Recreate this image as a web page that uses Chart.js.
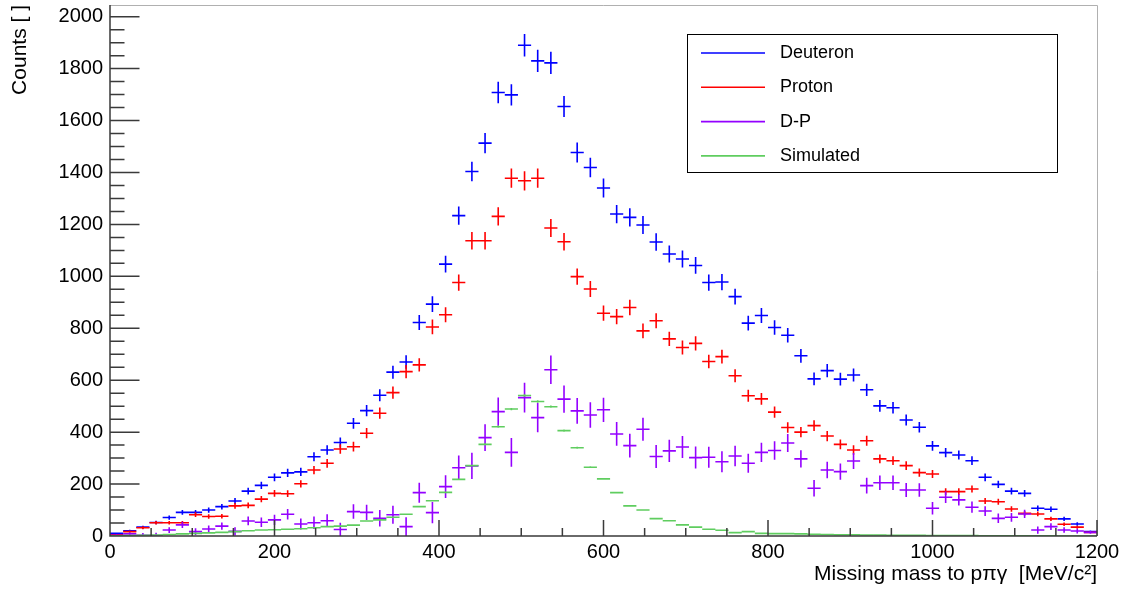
<!DOCTYPE html>
<html>
<head>
<meta charset="utf-8">
<script src="https://cdn.jsdelivr.net/npm/chart.js@4.4.0/dist/chart.umd.min.js"></script>
<style>
  html, body { margin: 0; padding: 0; background: #fff; }
</style>
</head>
<body>
<canvas id="c" width="1126" height="589"></canvas>
<script>
// bin centres of the 16 MeV wide histogram bins
const binCenters = [8, 24, 40, 56, 72, 88, 104, 120, 136, 152, 168, 184, 200, 216, 232, 248, 264, 280, 296, 312,
  328, 344, 360, 376, 392, 408, 424, 440, 456, 472, 488, 504, 520, 536, 552, 568, 584, 600, 616, 632,
  648, 664, 680, 696, 712, 728, 744, 760, 776, 792, 808, 824, 840, 856, 872, 888, 904, 920, 936, 952,
  968, 984, 1000, 1016, 1032, 1048, 1064, 1080, 1096, 1112, 1128, 1144, 1160, 1176, 1192]
const halfBin = 8

const deuteron = [10, 20, 34, 52, 71, 91, 91, 100, 113, 135, 173, 195, 226, 243, 247, 305, 331, 360, 434, 483,
  542, 631, 670, 822, 893, 1047, 1234, 1404, 1513, 1708, 1699, 1890, 1830, 1822, 1654, 1477, 1419, 1340, 1240, 1227,
  1198, 1132, 1086, 1067, 1042, 976, 978, 922, 820, 849, 803, 773, 694, 605, 637, 604, 620, 563, 501, 494,
  447, 419, 347, 321, 312, 290, 226, 199, 173, 164, 107, 103, 66, 46, 17]

const proton = [5, 17, 32, 51, 51, 51, 82, 75, 76, 116, 118, 142, 164, 163, 201, 254, 280, 335, 344, 396,
  473, 552, 633, 659, 805, 852, 976, 1137, 1137, 1231, 1378, 1368, 1378, 1186, 1133, 999, 951, 858, 845, 880,
  790, 829, 759, 726, 742, 672, 691, 617, 540, 528, 477, 418, 400, 425, 385, 353, 331, 367, 297, 290,
  271, 244, 239, 171, 171, 181, 135, 132, 104, 87, 85, 66, 45, 34, 14]

const diff = [3, 8, 3, 2, 23, 43, 17, 27, 38, 18, 58, 53, 62, 84, 46, 51, 59, 25, 94, 91,
  68, 82, 36, 167, 90, 190, 263, 270, 379, 479, 322, 533, 456, 640, 527, 482, 466, 486, 393, 348,
  411, 306, 328, 343, 302, 303, 286, 308, 280, 322, 329, 358, 297, 184, 254, 248, 289, 194, 205, 205,
  177, 177, 107, 149, 139, 111, 96, 68, 72, 85, 23, 36, 23, 19, 14]

const simulated = [1, 2, 3, 4, 6, 8, 10, 12, 14, 17, 20, 23, 24, 26, 28, 32, 36, 38, 42, 58,
  62, 72, 84, 113, 136, 168, 218, 271, 353, 421, 489, 541, 518, 498, 406, 340, 265, 220, 167, 116,
  100, 67, 59, 43, 34, 26, 22, 13, 17, 10, 9, 9, 8, 7, 6, 5, 5, 4, 4, 3,
  3, 3, 2, 2, 2, 2, 1, 1, 1, 1, 1, 1, 0, 0, 0]

const xTickValues = [0, 200, 400, 600, 800, 1000, 1200]
const yTickValues = [0, 200, 400, 600, 800, 1000, 1200, 1400, 1600, 1800, 2000]

// statistical errors as drawn by the histogram (sqrt N; D-P from both inputs)
const deuteronErr = deuteron.map((v) => Math.sqrt(v))
const protonErr = proton.map((v) => Math.sqrt(v))
const diffErr = deuteron.map((v, i) => Math.sqrt(v + proton[i]))
const simulatedErr = simulated.map((v) => Math.sqrt(v) * 0.2)

function points(values) {
  return binCenters.map((x, i) => ({ x, y: values[i] }))
}

const errorBars = {
  id: 'errorBars',
  afterDatasetsDraw(chart) {
    const { ctx, chartArea: a, scales: { x, y } } = chart
    ctx.save()
    ctx.beginPath()
    ctx.rect(a.left, a.top, a.right - a.left, a.bottom - a.top)
    ctx.clip()
    chart.data.datasets.forEach((ds) => {
      ctx.strokeStyle = ds.borderColor
      ctx.lineWidth = 1.6
      ctx.beginPath()
      ds.data.forEach((p, i) => {
        const px = x.getPixelForValue(p.x)
        const py = y.getPixelForValue(p.y)
        const e = ds.errors[i]
        ctx.moveTo(x.getPixelForValue(p.x - halfBin), py)
        ctx.lineTo(x.getPixelForValue(p.x + halfBin), py)
        ctx.moveTo(px, y.getPixelForValue(p.y - e))
        ctx.lineTo(px, y.getPixelForValue(p.y + e))
      })
      ctx.stroke()
    })
    ctx.restore()
  },
}

const frameTicks = {
  id: 'frameTicks',
  afterDraw(chart) {
    const { ctx, chartArea: a, scales: { x, y } } = chart
    ctx.save()
    ctx.strokeStyle = '#b0b0b0'
    ctx.lineWidth = 1
    ctx.beginPath()
    ctx.moveTo(a.left, a.top + 0.5)
    ctx.lineTo(a.right + 0.5, a.top + 0.5)
    ctx.lineTo(a.right + 0.5, a.bottom)
    ctx.stroke()

    ctx.strokeStyle = '#3a3a3a'
    ctx.lineWidth = 1.5
    ctx.beginPath()
    ctx.moveTo(a.left, a.top)
    ctx.lineTo(a.left, a.bottom)
    ctx.lineTo(a.right, a.bottom)
    for (let v = 0; v <= x.max; v += 50) {
      const px = x.getPixelForValue(v)
      const len = v % 200 === 0 ? 16 : 8
      ctx.moveTo(px, a.bottom)
      ctx.lineTo(px, a.bottom - len)
    }
    for (let v = 0; v <= y.max; v += 50) {
      const py = y.getPixelForValue(v)
      const len = v % 200 === 0 ? 29.5 : 14.5
      ctx.moveTo(a.left, py)
      ctx.lineTo(a.left + len, py)
    }
    ctx.stroke()
    ctx.restore()
  },
}

const boxLegend = {
  id: 'boxLegend',
  afterDraw(chart) {
    const { ctx } = chart
    const left = 687, top = 34, w = 370, h = 138
    ctx.save()
    ctx.fillStyle = '#fff'
    ctx.fillRect(left, top, w, h)
    ctx.strokeStyle = '#000'
    ctx.lineWidth = 1
    ctx.strokeRect(left + 0.5, top + 0.5, w, h)
    ctx.font = '18px "Liberation Sans", Arial, sans-serif'
    ctx.textBaseline = 'middle'
    ctx.fillStyle = '#000'
    chart.data.datasets.forEach((ds, i) => {
      const rowY = top + 19 + i * 34.3
      ctx.strokeStyle = ds.borderColor
      ctx.lineWidth = 1.6
      ctx.beginPath()
      ctx.moveTo(701, rowY)
      ctx.lineTo(765, rowY)
      ctx.stroke()
      ctx.fillText(ds.label, 780, rowY)
    })
    ctx.restore()
  },
}

const font = { family: '"Liberation Sans", Arial, sans-serif', size: 20 }

new Chart(document.getElementById('c'), {
  type: 'scatter',
  data: {
    datasets: [
      { label: 'Deuteron', data: points(deuteron), errors: deuteronErr, borderColor: '#0000ff' },
      { label: 'Proton', data: points(proton), errors: protonErr, borderColor: '#ff0000' },
      { label: 'D-P', data: points(diff), errors: diffErr, borderColor: '#9400ff' },
      { label: 'Simulated', data: points(simulated), errors: simulatedErr, borderColor: 'rgb(95, 205, 95)' },
    ],
  },
  options: {
    responsive: false,
    animation: false,
    devicePixelRatio: 1,
    layout: { padding: { left: 0, right: 29, top: 5, bottom: 0 } },
    elements: { point: { radius: 0, hoverRadius: 0 } },
    plugins: { legend: { display: false }, tooltip: { enabled: false } },
    scales: {
      x: {
        type: 'linear',
        min: 0,
        max: 1200,
        grid: { display: false, drawTicks: false },
        border: { display: false },
        afterBuildTicks: (s) => { s.ticks = xTickValues.map((value) => ({ value })) },
        afterFit: (s) => { s.height = 53; s.paddingLeft = 0; s.paddingRight = 0 },
        ticks: { font, color: '#000', padding: 4, maxRotation: 0, autoSkip: false, callback: (v) => String(v) },
        title: {
          display: true,
          text: 'Missing mass to pπγ  [MeV/c²]',
          align: 'end',
          color: '#000',
          font: { family: font.family, size: 21 },
          padding: { top: 0, bottom: 2 },
        },
      },
      y: {
        type: 'linear',
        min: 0,
        max: 2045,
        grid: { display: false, drawTicks: false },
        border: { display: false },
        afterBuildTicks: (s) => { s.ticks = yTickValues.map((value) => ({ value })) },
        afterFit: (s) => { s.width = 110; s.paddingTop = 0; s.paddingBottom = 0 },
        ticks: { font, color: '#000', padding: 7, callback: (v) => String(v) },
        title: {
          display: true,
          text: 'Counts [ ]',
          align: 'end',
          color: '#000',
          font: { family: font.family, size: 21 },
          padding: 8,
        },
      },
    },
  },
  plugins: [errorBars, frameTicks, boxLegend],
})
</script>
</body>
</html>
